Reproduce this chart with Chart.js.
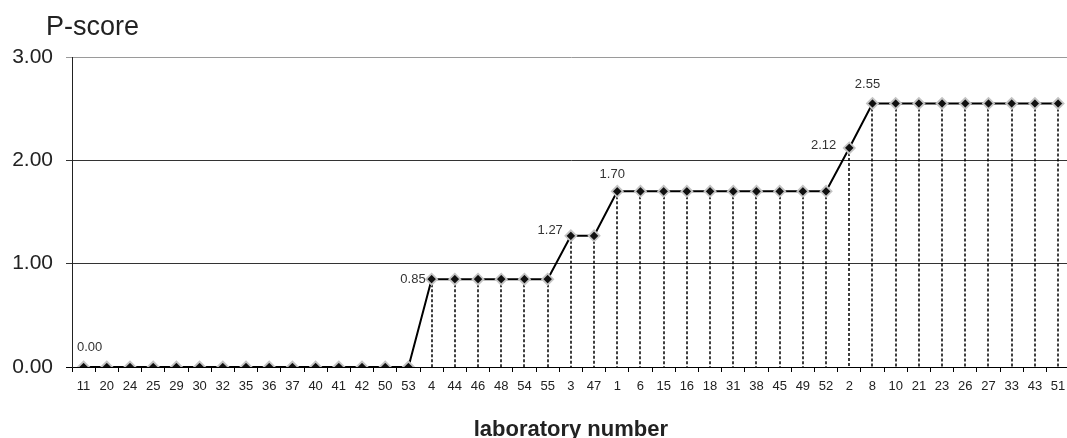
<!DOCTYPE html>
<html>
<head>
<meta charset="utf-8">
<script src="https://cdn.jsdelivr.net/npm/chart.js@4/dist/chart.umd.min.js"></script>
<style>
  html, body { margin: 0; padding: 0; background: #fff; overflow: hidden; }
  #clip { width: 1067px; height: 438px; overflow: hidden; position: relative; }
  #wrap { width: 1077px; height: 438px; }
</style>
</head>
<body>
<div id="clip"><div id="wrap"><canvas id="myChart" width="1077" height="438"></canvas></div></div>
<script>
// laboratory numbers, in plotted order
const labs = ['11','20','24','25','29','30','32','35','36','37','40','41','42','50','53',
  '4','44','46','48','54','55','3','47',
  '1','6','15','16','18','31','38','45','49','52',
  '2','8','10','21','23','26','27','33','43','51'];

// P-score per laboratory
const pScores = [0,0,0,0,0,0,0,0,0,0,0,0,0,0,0,
  0.85,0.85,0.85,0.85,0.85,0.85,1.27,1.27,
  1.70,1.70,1.70,1.70,1.70,1.70,1.70,1.70,1.70,1.70,
  2.12,2.55,2.55,2.55,2.55,2.55,2.55,2.55,2.55,2.55];

const yTicks = [0, 1, 2, 3];

// which points get a value label, and where it sits relative to the point
const labelAt = {
  0:  { align: 'center', dx: 6,   dy: -20 },
  15: { align: 'right',  dx: -6,  dy: 0 },
  21: { align: 'right',  dx: -8,  dy: -5 },
  23: { align: 'center', dx: -5,  dy: -17 },
  33: { align: 'right',  dx: -13, dy: -3 },
  34: { align: 'center', dx: -5,  dy: -19 }
};

const FONT = '"Liberation Sans", Arial, sans-serif';

const dropLines = {
  id: 'dropLines',
  beforeDatasetsDraw(chart) {
    const ctx = chart.ctx;
    const y0 = chart.scales.y.getPixelForValue(0);
    ctx.save();
    ctx.strokeStyle = '#000';
    ctx.lineWidth = 1.5;
    ctx.setLineDash([3, 2]);
    chart.getDatasetMeta(0).data.forEach(pt => {
      ctx.beginPath();
      ctx.moveTo(Math.round(pt.x), pt.y);
      ctx.lineTo(Math.round(pt.x), y0);
      ctx.stroke();
    });
    ctx.restore();
  }
};

const textBits = {
  id: 'textBits',
  afterDatasetsDraw(chart) {
    const ctx = chart.ctx;
    const pts = chart.getDatasetMeta(0).data;
    const area = chart.chartArea;
    ctx.save();
    ctx.font = '13px ' + FONT;
    ctx.fillStyle = '#333';
    ctx.textBaseline = 'middle';
    Object.keys(labelAt).forEach(k => {
      const i = +k;
      const o = labelAt[k];
      ctx.textAlign = o.align;
      ctx.fillText(pScores[i].toFixed(2), pts[i].x + o.dx, pts[i].y + o.dy);
    });
    // y caption at top-left
    ctx.font = '27px ' + FONT;
    ctx.fillStyle = '#222';
    ctx.textAlign = 'left';
    ctx.textBaseline = 'alphabetic';
    ctx.fillText('P-score', 46, 35);
    // x caption
    ctx.font = 'bold 22px ' + FONT;
    ctx.textAlign = 'center';
    ctx.fillText('laboratory number', (area.left + area.right) / 2, 436);
    ctx.restore();
  }
};

new Chart(document.getElementById('myChart').getContext('2d'), {
  type: 'line',
  data: {
    labels: labs,
    datasets: [{
      data: pScores,
      borderColor: '#000',
      borderWidth: 2,
      pointStyle: 'rectRot',
      pointRadius: 5.5,
      pointBackgroundColor: '#111',
      pointBorderColor: '#c4c4c4',
      pointBorderWidth: 1.8,
      tension: 0
    }]
  },
  plugins: [dropLines, textBits],
  options: {
    responsive: false,
    animation: false,
    layout: { padding: { top: 57, right: 2, bottom: 0, left: 0 } },
    plugins: { legend: { display: false }, tooltip: { enabled: false } },
    scales: {
      x: {
        offset: true,
        afterFit(s) { s.height = 71; },
        border: { display: true, color: '#000', width: 1 },
        grid: { offset: true, drawOnChartArea: false, drawTicks: true, tickLength: 5, color: '#000' },
        ticks: {
          autoSkip: false, maxRotation: 0, padding: 7, color: '#222',
          font: { family: FONT, size: 13 }
        }
      },
      y: {
        min: 0, max: 3,
        afterFit(s) { s.width = 72; },
        afterBuildTicks(s) { s.ticks = yTicks.map(v => ({ value: v })); },
        border: { display: true, color: '#222', width: 1 },
        grid: {
          drawTicks: true, tickLength: 6,
          color: c => c.tick && c.tick.value === 3 ? '#9a9a9a' : (c.tick && c.tick.value === 0 ? '#000' : '#333'),
          lineWidth: 1
        },
        ticks: {
          padding: 13, color: '#222',
          font: { family: FONT, size: 21 },
          callback: v => Number(v).toFixed(2)
        }
      }
    }
  }
});
</script>
</body>
</html>
